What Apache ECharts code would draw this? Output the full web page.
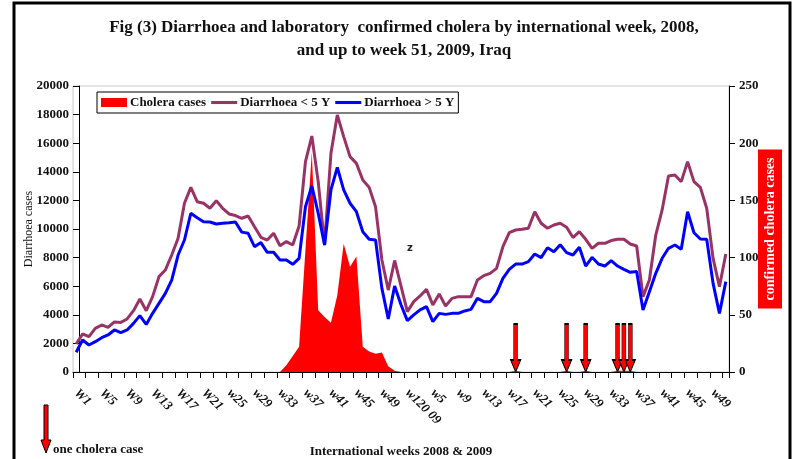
<!DOCTYPE html>
<html>
<head>
<meta charset="utf-8">
<script src="https://cdn.jsdelivr.net/npm/echarts@6/dist/echarts.min.js"></script>
<style>
html,body{margin:0;padding:0;background:#fff;}
#chart{width:796px;height:459px;}
</style>
</head>
<body>
<div id="chart"></div>
<script>
// ---- data ----
const weeks2008 = Array.from({length: 52}, (_, k) => '2008 w' + (k + 1));
const weeks2009 = Array.from({length: 51}, (_, k) => '2009 w' + (k + 1));
const categories = weeks2008.concat(weeks2009);

const tickLabels = ['W1','W5','W9','W13','W17','W21','w25','w29','w33','w37','w41','w45','w49',
  'w120 09','w5','w9','w13','w17','w21','w25','w29','w33','w37','w41','w45','w49'];

const diarrhoeaUnder5 = [
  1960,2660,2470,3050,3290,3120,3500,3470,3710,4290,5100,4290,5270,6670,7130,8180,9350,11800,12910,11910,
  11800,11450,11980,11450,11050,10940,10750,10910,10160,9420,9230,9700,8830,9120,8880,10210,14710,16500,13310,8880,
  15290,17970,16460,15060,14590,13430,12910,11560,7830,5730,7800,6000,
  4220,4920,5320,5780,4690,5450,4620,5150,5270,5270,5270,6430,6740,6900,7250,8760,9740,9930,
  9980,10050,11210,10400,10050,10280,10400,10120,9400,9810,9280,8650,9000,9000,9190,9280,9280,8950,8810,5270,
  6430,9580,11330,13710,13780,13310,14710,13310,12910,11450,7950,5970,8250
];

const diarrhoeaOver5 = [
  1380,2240,1890,2120,2400,2590,2940,2750,2940,3400,3940,3330,4100,4800,5500,6430,8180,9230,11100,10790,
  10510,10490,10350,10400,10440,10490,9780,9700,8760,9050,8370,8370,7830,7830,7530,7950,11560,13010,11100,8880,
  12730,14310,12730,11800,11210,9810,9280,9230,5850,3710,6010,4700,
  3590,3990,4340,4570,3520,4100,4030,4100,4100,4270,4380,5150,4920,4920,5500,6550,7180,7550,
  7550,7720,8250,8000,8690,8410,8900,8350,8180,8720,7410,8020,7550,7410,7790,7410,7180,6970,7020,4340,
  5620,6900,7950,8650,8880,8580,11210,9740,9300,9280,6200,4100,6320
];

const choleraCases = [
  0,0,0,0,0,0,0,0,0,0,0,0,0,0,0,0,0,0,0,0,
  0,0,0,0,0,0,0,0,0,0,0,0,0,6,14,22,107,192,54,48,
  43,67,112,92,101,22,18,16,17,5,1,0,
  0,0,0,0,0,0,0,0,0,0,0,0,0,0,0,0,0,1,
  0,0,0,0,0,0,0,1,0,0,1,0,0,0,0,1,1,1,0,0,
  0,0,0,0,0,0,0,0,0,0,0,0,0
];

// weeks (category index) with a single cholera case, marked by arrows
const singleCaseWeeks = [69, 77, 80, 85, 86, 87];

const serifFont = '"Liberation Serif", "DejaVu Serif", serif';
const arrowPath = 'path://M3,0 L7,0 L7,36 L10,36 L5,48 L0,36 L3,36 Z';
const lineIcon = 'path://M0,0 L27,0 L27,3.2 L0,3.2 Z';

const chart = echarts.init(document.getElementById('chart'), null, {renderer: 'canvas'});

chart.setOption({
  animation: false,
  backgroundColor: '#fff',
  title: {
    text: 'Fig (3) Diarrhoea and laboratory  confirmed cholera by international week, 2008,\nand up to week 51, 2009, Iraq',
    left: 399,
    textAlign: 'center',
    top: 11,
    textStyle: {
      fontFamily: serifFont, fontWeight: 'bold', fontSize: 17, color: '#111', lineHeight: 23
    }
  },
  legend: {
    left: 97, top: 92,
    orient: 'horizontal',
    padding: [4, 4],
    itemGap: 5,
    itemWidth: 26, itemHeight: 9,
    borderColor: '#000', borderWidth: 1, backgroundColor: '#fff',
    textStyle: {fontFamily: serifFont, fontWeight: 'bold', fontSize: 13, color: '#111', padding: [0, 0, 0, -2]},
    data: [
      {name: 'Cholera cases', icon: 'rect'},
      {name: 'Diarrhoea < 5 Y', icon: lineIcon},
      {name: 'Diarrhoea > 5 Y', icon: lineIcon}
    ]
  },
  grid: {
    left: 73, right: 67, top: 86, bottom: 87,
    outerBoundsMode: 'none',
    containLabel: false,
    show: true, borderColor: '#c8c8c8', borderWidth: 1
  },
  xAxis: {
    type: 'category',
    data: categories,
    boundaryGap: true,
    name: 'International weeks 2008 & 2009',
    nameLocation: 'middle',
    nameGap: 73,
    nameMoveOverlap: false,
    nameTextStyle: {fontFamily: serifFont, fontWeight: 'bold', fontSize: 13, color: '#111'},
    axisLine: {lineStyle: {color: '#000', width: 1}},
    axisTick: {show: true, interval: 1, length: 6, lineStyle: {color: '#000'}},
    axisLabel: {
      interval: 3,
      rotate: -45,
      margin: 19,
      fontFamily: serifFont, fontWeight: 'bold', fontStyle: 'italic', fontSize: 13, color: '#111',
      formatter: (val, idx) => tickLabels[idx / 4] || ''
    },
    splitLine: {show: false}
  },
  yAxis: [
    {
      type: 'value',
      min: 0, max: 20000, interval: 2000,
      position: 'left',
      offset: -6,
      name: 'Diarrhoea cases',
      nameLocation: 'middle',
      nameRotate: 90,
      nameGap: 44,
      nameMoveOverlap: false,
      nameTextStyle: {fontFamily: serifFont, fontSize: 12, color: '#111'},
      axisLine: {show: true, lineStyle: {color: '#000'}},
      axisTick: {show: true, length: 6, lineStyle: {color: '#000'}},
      axisLabel: {margin: 10, fontFamily: serifFont, fontWeight: 'bold', fontSize: 13, color: '#111',
        formatter: v => String(v)},
      splitLine: {show: false}
    },
    {
      type: 'value',
      min: 0, max: 250, interval: 50,
      position: 'right',
      name: 'confirmed cholera cases',
      nameLocation: 'middle',
      nameRotate: 90,
      nameGap: 29,
      nameMoveOverlap: false,
      nameTextStyle: {
        fontFamily: serifFont, fontWeight: 'bold', fontSize: 14, color: '#fff',
        backgroundColor: '#ff0000', padding: [5, 8]
      },
      axisLine: {show: true, lineStyle: {color: '#000'}},
      axisTick: {show: true, length: 6, lineStyle: {color: '#000'}},
      axisLabel: {margin: 10, fontFamily: serifFont, fontWeight: 'bold', fontSize: 13, color: '#111',
        formatter: v => String(v)},
      splitLine: {show: false}
    }
  ],
  series: [
    {
      name: 'Cholera cases',
      type: 'line',
      yAxisIndex: 1,
      data: choleraCases,
      symbol: 'none',
      color: '#ff0000',
      lineStyle: {width: 0},
      areaStyle: {color: '#ff0000', opacity: 1},
      z: 1
    },
    {
      name: 'Diarrhoea < 5 Y',
      type: 'line',
      data: diarrhoeaUnder5,
      symbol: 'none',
      color: '#993366',
      lineStyle: {width: 3, color: '#993366'},
      z: 3
    },
    {
      name: 'Diarrhoea > 5 Y',
      type: 'line',
      data: diarrhoeaOver5,
      symbol: 'none',
      color: '#0000ff',
      lineStyle: {width: 3, color: '#0000ff'},
      z: 4
    },
    {
      name: 'single case',
      type: 'scatter',
      yAxisIndex: 1,
      data: singleCaseWeeks.map(i => [i, 0]),
      symbol: arrowPath,
      symbolSize: [10, 48],
      symbolOffset: [0, '-50%'],
      itemStyle: {color: '#ff0000', borderColor: '#000', borderWidth: 1, opacity: 1},
      z: 5
    }
  ],
  graphic: [
    {
      type: 'polyline',
      shape: {points: [[14, 459], [14, 3], [790, 3], [790, 459]]},
      style: {stroke: '#000', lineWidth: 3, fill: null},
      silent: true
    },
    {
      type: 'polygon',
      shape: {points: [[44, 405], [48, 405], [48, 440], [51, 440], [46, 453], [41, 440], [44, 440]]},
      style: {fill: '#ff0000', stroke: '#000', lineWidth: 1},
      silent: true
    },
    {
      type: 'text',
      left: 53, top: 443,
      style: {text: 'one cholera case', font: 'bold 13px ' + serifFont, fill: '#111'},
      silent: true
    },
    {
      type: 'text',
      left: 407, top: 243,
      style: {text: 'z', font: 'bold 10px "DejaVu Sans", sans-serif', fill: '#222'},
      silent: true
    }
  ]
});
</script>
</body>
</html>
